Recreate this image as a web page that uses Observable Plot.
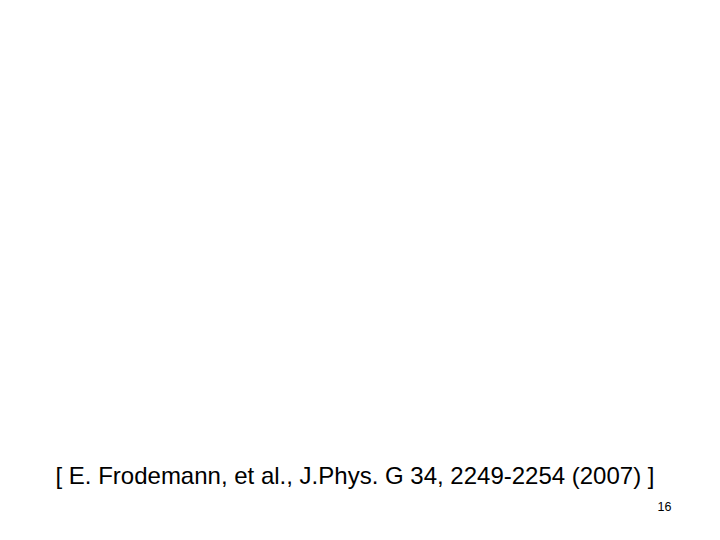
<!DOCTYPE html>
<html>
<head>
<meta charset="utf-8">
<script src="https://cdn.jsdelivr.net/npm/d3@7"></script>
<script src="https://cdn.jsdelivr.net/npm/@observablehq/plot@0.6"></script>
<style>
  html, body { margin: 0; padding: 0; background: #fff; }
</style>
</head>
<body>
<div id="chart"></div>
<script>
const citation = ["[ E. Frodemann, et al., J.Phys. G 34, 2249-2254 (2007) ]"];
const pageNumber = ["16"];

const chart = Plot.plot({
  width: 720,
  height: 540,
  margin: 0,
  style: { background: "#fff", fontFamily: "'Liberation Sans', Arial, sans-serif" },
  marks: [
    Plot.text(citation, {
      text: d => d,
      frameAnchor: "top-left",
      textAnchor: "start",
      lineAnchor: "middle",
      dx: 55,
      dy: 476,
      fontSize: 24,
      fill: "#000"
    }),
    Plot.text(pageNumber, {
      text: d => d,
      frameAnchor: "top-left",
      textAnchor: "end",
      lineAnchor: "middle",
      dx: 671,
      dy: 506,
      fontSize: 12.5,
      fill: "#000"
    })
  ]
});
document.getElementById("chart").append(chart);
</script>
</body>
</html>
